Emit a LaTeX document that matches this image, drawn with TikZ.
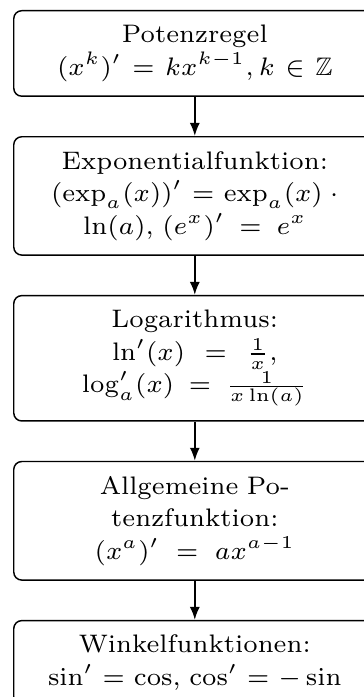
\documentclass[tikz,border=0pt]{standalone}
\usepackage{amsmath,amssymb}
\usetikzlibrary{arrows.meta,calc,positioning}
\hyphenation{Po-tenz-funk-tion}
\tikzset{
  rulebox/.style={
    draw,
    rounded corners=2.2pt,
    align=center,
    text width=84pt,
    inner xsep=8pt,
    inner ysep=4pt,
    line width=0.4pt,
    font=\fontsize{7}{9}\selectfont
  },
  rulearrow/.style={-{Latex[length=3.6pt,width=2.8pt]}, line width=0.55pt}
}
\begin{document}
\begin{tikzpicture}[node distance=10.8pt]
  % page = visible part of the chain
  \useasboundingbox (-3.6pt,2.76pt) rectangle ++(100.5pt,-192.5pt);
  \clip (-3.6pt,2.76pt) rectangle ++(100.5pt,-192.5pt);

  \node[rulebox, anchor=north west] (potenz) at (0,0)
    {Potenzregel\\ $(x^k)' = kx^{k-1}, k \in \mathbb{Z}$};
  \node[rulebox, below=of potenz] (expfkt)
    {Exponentialfunktion:\\ $(\exp_a(x))' = \exp_a(x) \cdot \ln(a)$, $(e^x)' = e^x$};
  \node[rulebox, below=of expfkt] (logfkt)
    {Logarithmus:\\ $\ln'(x) = \frac{1}{x}$, $\log_a'(x) = \frac{1}{x\ln(a)}$};
  \node[rulebox, below=of logfkt] (allgpot)
    {Allgemeine Potenzfunktion:\\ $(x^a)' = ax^{a-1}$};
  \node[rulebox, below=of allgpot] (winkel)
    {Winkelfunktionen:\\ $\sin' = \cos$, $\cos' = -\sin$};

  \draw[rulearrow] (potenz) -- (expfkt);
  \draw[rulearrow] (expfkt) -- (logfkt);
  \draw[rulearrow] (logfkt) -- (allgpot);
  \draw[rulearrow] (allgpot) -- (winkel);
\end{tikzpicture}
\end{document}
